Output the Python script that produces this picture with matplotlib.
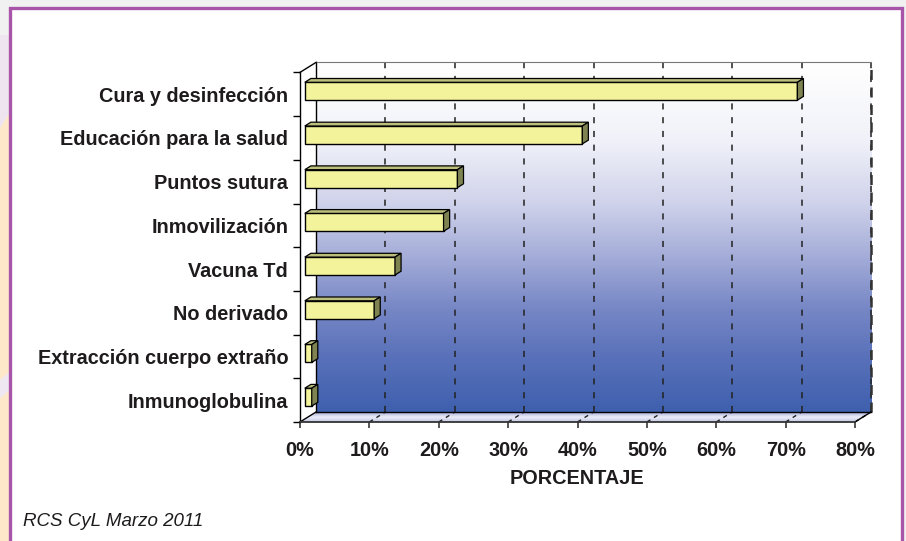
import numpy as np
import matplotlib.pyplot as plt
from matplotlib.patches import Polygon, Rectangle
from matplotlib.colors import LinearSegmentedColormap

# datos (de abajo hacia arriba)
categorias = ["Inmunoglobulina", "Extracción cuerpo extraño", "No derivado",
              "Vacuna Td", "Inmovilización", "Puntos sutura",
              "Educación para la salud", "Cura y desinfección"]
porcentajes = [1, 1, 10, 13, 20, 22, 40, 71]
ticks_x = [0, 10, 20, 30, 40, 50, 60, 70, 80]
etiquetas_x = ["0%", "10%", "20%", "30%", "40%", "50%", "60%", "70%", "80%"]
titulo_x = "PORCENTAJE"
fuente = "RCS CyL Marzo 2011"

plt.rcParams['font.family'] = ['Liberation Sans', 'DejaVu Sans']

W, H = 906, 541
fig = plt.figure(figsize=(W / 100, H / 100), dpi=100)

# fondo y marco (pixeles)
bg = fig.add_axes([0, 0, 1, 1], zorder=-5)
bg.set_xlim(0, W)
bg.set_ylim(H, 0)
bg.axis('off')
bg.add_patch(Rectangle((0, 0), W, H, color='#f1f1f1', lw=0))
bg.add_patch(Polygon([(0, 35), (10, 35), (10, 112), (0, 128)], color='#eee5f1', lw=0))
bg.add_patch(Polygon([(0, 128), (10, 112), (10, H), (0, H)], color='#fde9ca', lw=0))
bg.add_patch(Polygon([(0, 380), (10, 372), (10, 390), (0, 398)], color='#efe7f2', lw=0))
bg.add_patch(Rectangle((10, 8), 892, 600, facecolor='white', edgecolor='#a854a8', lw=2.4))

# ejes del grafico 3D
px_pct = 555 / 80.0     # pixeles por 1%
px_cat = 43.7           # pixeles por categoria
x0_px, y0_px = 300, 422
left, right, top, bottom = 280, 880, 55, 432
ax = fig.add_axes([left / W, (H - bottom) / H, (right - left) / W, (bottom - top) / H])
ax.patch.set_alpha(0)

Dx = 16 / px_pct        # profundidad en x (datos)
Dy = 10 / px_cat        # profundidad en y (datos)
n = len(categorias)
xmax = ticks_x[-1]

# pared del fondo con degradado
cmap_pared = LinearSegmentedColormap.from_list('pared', [
    (0.0, '#ffffff'), (0.22, '#f1f2f9'), (0.4, '#d0d3eb'), (0.55, '#a6aed9'),
    (0.7, '#7888c6'), (0.85, '#5870b9'), (1.0, '#3f60ae')])
grad = np.linspace(0, 1, 256).reshape(-1, 1)
ax.imshow(grad, extent=[Dx, xmax + Dx, Dy, n + Dy], aspect='auto', cmap=cmap_pared,
          origin='upper', interpolation='bicubic', zorder=0)

# suelo
cmap_suelo = LinearSegmentedColormap.from_list('suelo', ['#a3aad6', '#eceef8', '#c3c7e6'])
suelo = Polygon([(0, 0), (xmax, 0), (xmax + Dx, Dy), (Dx, Dy)], closed=True,
                facecolor='none', edgecolor='none')
ax.add_patch(suelo)
im = ax.imshow(grad, extent=[0, xmax + Dx, 0, Dy], aspect='auto', cmap=cmap_suelo,
               origin='upper', interpolation='bicubic', zorder=0)
im.set_clip_path(suelo)

# lineas de division
for t in ticks_x[1:]:
    ax.plot([t + Dx, t + Dx], [Dy, n + Dy], color='#222222', lw=1.1,
            dashes=(4, 5), zorder=1)
    ax.plot([t, t + Dx], [0, Dy], color='#222222', lw=1.0, dashes=(3, 3), zorder=1)
ax.plot([xmax + Dx, xmax + Dx], [Dy, n + Dy], color='#333333', lw=1.8,
        dashes=(4, 3), zorder=2)

# aristas de la caja
ax.plot([Dx, Dx], [Dy, n + Dy], color='black', lw=1.0, zorder=2)
ax.plot([Dx, xmax + Dx], [n + Dy, n + Dy], color='#777777', lw=0.8, zorder=2)
ax.plot([0, Dx], [n, n + Dy], color='black', lw=1.0, zorder=2)
ax.plot([Dx, xmax + Dx], [Dy, Dy], color='black', lw=1.0, zorder=2)
ax.plot([0, Dx], [0, Dy], color='black', lw=1.0, zorder=2)
ax.plot([xmax, xmax + Dx], [0, Dy], color='black', lw=1.0, zorder=2)

# barras 3D
f0, f1 = 0.30, 0.68
alto = 0.41
y = np.arange(n) + 0.5
yf = y + f0 * Dy
x_ini = f0 * Dx
bdx, bdy = (f1 - f0) * Dx, (f1 - f0) * Dy
ax.barh(yf, porcentajes, height=alto, left=x_ini, color='#f3f39c',
        edgecolor='black', lw=1.0, zorder=4)
for yc, v in zip(yf, porcentajes):
    x1 = x_ini + v
    yt = yc + alto / 2
    yb = yc - alto / 2
    ax.add_patch(Polygon([(x_ini, yt), (x1, yt), (x1 + bdx, yt + bdy), (x_ini + bdx, yt + bdy)],
                         closed=True, facecolor='#bcbe7b', edgecolor='black', lw=0.9, zorder=4))
    ax.add_patch(Polygon([(x1, yb), (x1, yt), (x1 + bdx, yt + bdy), (x1 + bdx, yb + bdy)],
                         closed=True, facecolor='#7f8352', edgecolor='black', lw=0.9, zorder=4))

# limites
ax.set_xlim((left - x0_px) / px_pct, (right - x0_px) / px_pct)
ax.set_ylim((y0_px - bottom) / px_cat, (y0_px - top) / px_cat)

# ejes
for s in ['top', 'right']:
    ax.spines[s].set_visible(False)
ax.spines['left'].set_position(('data', 0))
ax.spines['left'].set_bounds(0, n)
ax.spines['left'].set_linewidth(1.0)
ax.spines['bottom'].set_position(('data', 0))
ax.spines['bottom'].set_bounds(0, xmax)
ax.spines['bottom'].set_color('#333333')
ax.spines['bottom'].set_linewidth(1.3)
ax.spines['left'].set_zorder(3)
ax.spines['bottom'].set_zorder(3)

color_txt = '#1e1b1c'
ax.set_yticks(np.arange(n + 1))
ax.set_yticklabels([])
ax.set_yticks(y, minor=True)
ax.set_yticklabels(categorias, minor=True, fontsize=14.3, fontweight='bold', color=color_txt)
ax.tick_params(axis='y', which='major', length=5, width=1.0, direction='out')
ax.tick_params(axis='y', which='minor', length=0, pad=8.5)

ax.set_xticks(ticks_x)
ax.set_xticklabels(etiquetas_x, fontsize=14.3, fontweight='bold', color=color_txt)
ax.tick_params(axis='x', length=4.3, width=1.4, color='#555555', pad=9.5)

ax.set_xlabel(titulo_x, fontsize=14.3, fontweight='bold', color=color_txt)
ax.xaxis.set_label_coords((576.5 - left) / (right - left), (bottom - 469) / (bottom - top))

fig.text(23 / W, 1 - 521 / H, fuente, fontsize=13.5, style='italic',
         color=color_txt, ha='left', va='center')

fig.savefig('out.png', dpi=100)
